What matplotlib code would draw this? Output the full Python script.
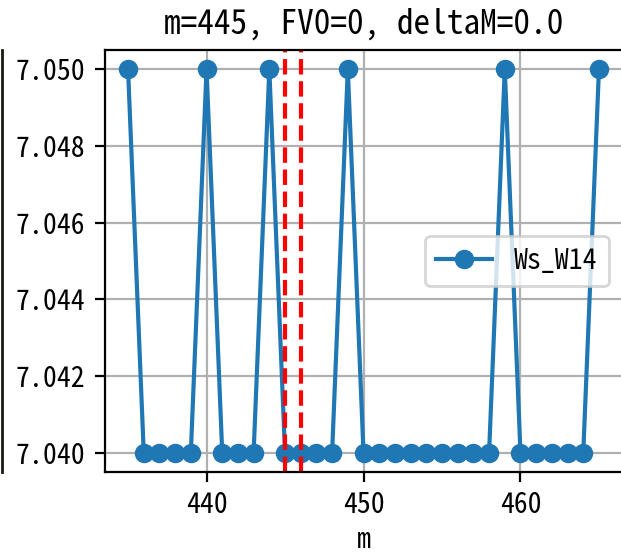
import matplotlib
matplotlib.use("Agg")
import matplotlib.pyplot as plt
from matplotlib.lines import Line2D

plt.rcParams['font.family'] = ['Noto Sans Mono CJK SC', 'Noto Sans CJK SC', 'DejaVu Sans']

# данные
m_values = list(range(435, 466))
peaks = [435, 440, 444, 449, 459, 465]
ws_w14 = [7.050 if m in peaks else 7.040 for m in m_values]
marks = [445, 446]
y_ticks = [7.040, 7.042, 7.044, 7.046, 7.048, 7.050]
y_labels = ['7.040', '7.042', '7.044', '7.046', '7.048', '7.050']

fig = plt.figure(figsize=(6.21 / 2, 5.53 / 2), dpi=200)
# правая граница осей выходит за край картинки
ax = fig.add_axes([104.5 / 621, 1 - 472 / 553, 518 / 621, 422 / 553])

ax.plot(m_values, ws_w14, marker='o', label='Ws_W14')
for v in marks:
    ax.axvline(v, color='red', linestyle='--')

ax.set_xlim(433.5, 466.5)
ax.set_ylim(7.0395, 7.0505)
ax.set_xticks([440, 450, 460])
ax.set_yticks(y_ticks)
ax.set_yticklabels(y_labels)
ax.grid(True)
ax.set_xlabel('m', labelpad=2.5)
ax.set_title('m=445, FV0=0, deltaM=0.0')
ax.legend(loc='center right')

# край соседнего графика
fig.add_artist(Line2D([1.5 / 621, 1.5 / 621], [1 - 472 / 553, 1 - 50 / 553],
                      transform=fig.transFigure, color='#1a1a10', linewidth=1))

fig.savefig('out.png', dpi=200)
